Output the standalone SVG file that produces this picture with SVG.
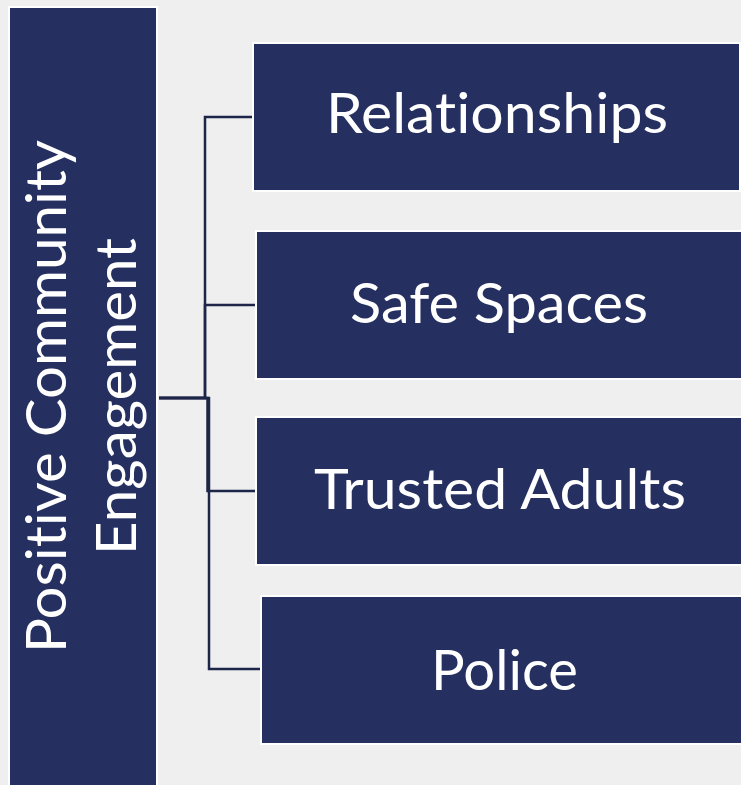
<svg xmlns="http://www.w3.org/2000/svg" width="741" height="785" viewBox="0 0 741 785">
<style>
.box{fill:#253061;stroke:#ffffff;stroke-width:2}
.lbl{fill:#ffffff;font-family:Lato,"Open Sans","Liberation Sans",sans-serif;font-size:56px;text-anchor:middle;font-variant-ligatures:none;font-feature-settings:"liga" 0,"clig" 0}
.con{fill:none;stroke:#1d2549;stroke-width:2.5}
</style>
<rect x="0" y="0" width="741" height="785" fill="#efefef"/>
<g id="connectors">
<path class="con" d="M159,398 H205 V117 H253"/>
<path class="con" d="M159,398 H205 V305 H256"/>
<path class="con" d="M159,398 H207.5 V491 H256"/>
<path class="con" d="M159,398 H209 V669 H261"/>
</g>
<g id="root">
<rect class="box" x="9" y="7" width="148" height="800"/>
<text class="lbl" transform="translate(66,396.5) rotate(-90)" textLength="513" lengthAdjust="spacingAndGlyphs">Positive Community</text>
<text class="lbl" transform="translate(136,396.5) rotate(-90)" textLength="317" lengthAdjust="spacingAndGlyphs">Engagement</text>
</g>
<g id="relationships">
<rect class="box" x="253" y="43" width="487" height="148"/>
<text class="lbl" x="497" y="133" textLength="342" lengthAdjust="spacingAndGlyphs">Relationships</text>
</g>
<g id="safe-spaces">
<rect class="box" x="256" y="231" width="490" height="148"/>
<text class="lbl" x="499" y="323" textLength="298" lengthAdjust="spacingAndGlyphs">Safe Spaces</text>
</g>
<g id="trusted-adults">
<rect class="box" x="256" y="417" width="490" height="148"/>
<text class="lbl" x="500" y="509" textLength="372" lengthAdjust="spacingAndGlyphs">Trusted Adults</text>
</g>
<g id="police">
<rect class="box" x="261" y="596" width="490" height="148"/>
<text class="lbl" x="504.5" y="690" textLength="147" lengthAdjust="spacingAndGlyphs">Police</text>
</g>
</svg>
